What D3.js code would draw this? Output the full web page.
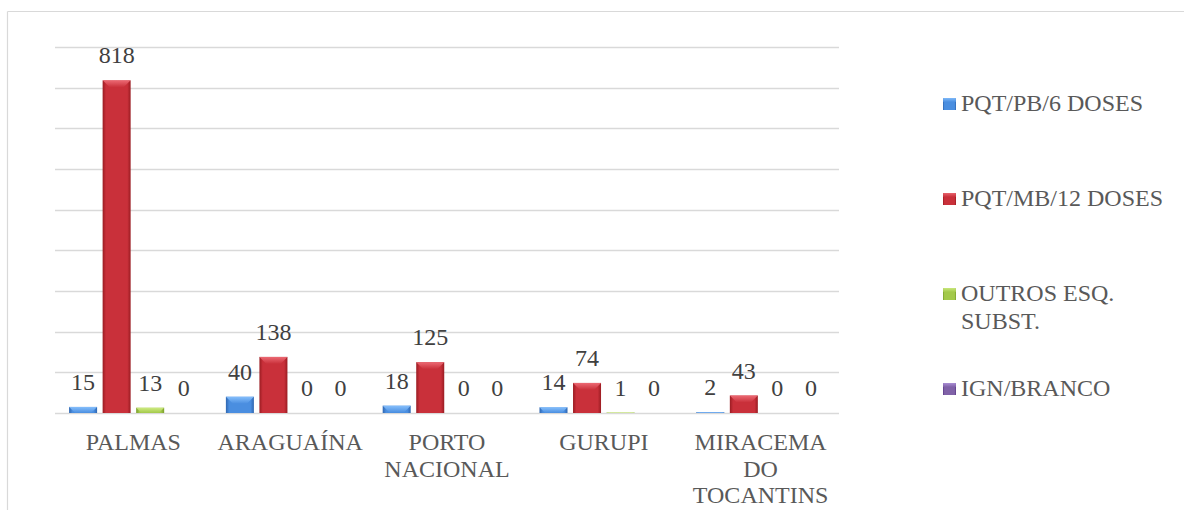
<!DOCTYPE html>
<html>
<head>
<meta charset="utf-8">
<script src="https://cdn.jsdelivr.net/npm/d3@7/dist/d3.min.js"></script>
<style>
  html, body { margin: 0; padding: 0; background: #fff; }
  svg { display: block; }
</style>
</head>
<body>
<svg id="chart" width="1184" height="510"></svg>
<script>
// ---- data ----
const categories = ["PALMAS", "ARAGUAÍNA", "PORTO NACIONAL", "GURUPI", "MIRACEMA DO TOCANTINS"];
const seriesNames = ["PQT/PB/6 DOSES", "PQT/MB/12 DOSES", "OUTROS ESQ. SUBST.", "IGN/BRANCO"];
const pqtPb6 = [15, 40, 18, 14, 2];
const pqtMb12 = [818, 138, 125, 74, 43];
const outros = [13, 0, 0, 1, 0];
const ignBranco = [0, 0, 0, 0, 0];
const yTicks = [0, 100, 200, 300, 400, 500, 600, 700, 800, 900];

const seriesValues = [pqtPb6, pqtMb12, outros, ignBranco];
const palette = [
  { dark: "#2f66b0", mid: "#4a8ee0", light: "#8cc4ff" },
  { dark: "#9a1c22", mid: "#c9303a", light: "#f0707a" },
  { dark: "#7a9e2c", mid: "#a3c94a", light: "#d2ee88" },
  { dark: "#5b3a86", mid: "#8062a8", light: "#b59ae0" }
];

const svg = d3.select("#chart");
const defs = svg.append("defs");

palette.forEach((p, i) => {
  const g = defs.append("linearGradient").attr("id", "body" + i)
    .attr("x1", "0").attr("x2", "1").attr("y1", "0").attr("y2", "0");
  g.append("stop").attr("offset", "0").attr("stop-color", p.dark);
  g.append("stop").attr("offset", "0.12").attr("stop-color", p.mid);
  g.append("stop").attr("offset", "0.88").attr("stop-color", p.mid);
  g.append("stop").attr("offset", "1").attr("stop-color", p.dark);
  const t = defs.append("linearGradient").attr("id", "top" + i)
    .attr("x1", "0").attr("x2", "0").attr("y1", "0").attr("y2", "1");
  t.append("stop").attr("offset", "0").attr("stop-color", p.light);
  t.append("stop").attr("offset", "1").attr("stop-color", p.mid);
});

// frame
svg.append("line").attr("x1", 7.5).attr("x2", 1184).attr("y1", 11.5).attr("y2", 11.5)
  .attr("stroke", "#d9d9d9").attr("stroke-width", 1.2);
svg.append("line").attr("x1", 7.5).attr("x2", 7.5).attr("y1", 11.5).attr("y2", 510)
  .attr("stroke", "#d9d9d9").attr("stroke-width", 1.2);

// scales
const x0 = d3.scaleBand().domain(categories).range([55, 839]).paddingInner(0).paddingOuter(0);
const x1 = d3.scaleBand().domain(seriesNames).range([0, x0.bandwidth()])
  .paddingInner(0.165).paddingOuter(0.42);
const y = d3.scaleLinear().domain([0, 900]).range([413, 47]);

// gridlines
svg.append("g").selectAll("line").data(yTicks).join("line")
  .attr("x1", 55).attr("x2", 839)
  .attr("y1", d => Math.round(y(d)) + 0.5).attr("y2", d => Math.round(y(d)) + 0.5)
  .attr("stroke", "#d9d9d9").attr("stroke-width", 1.4);

function txt(sel, color) {
  return sel.style("font-family", "Liberation Serif").style("fill", color || "#595959");
}

// bars
const groups = svg.append("g").selectAll("g").data(categories).join("g")
  .attr("transform", d => `translate(${x0(d)},0)`);

groups.each(function(cat, ci) {
  const g = d3.select(this);
  seriesNames.forEach((s, si) => {
    const v = seriesValues[si][ci];
    const bx = x1(s), bw = x1.bandwidth();
    const top = y(v), h = y(0) - top;
    if (h > 0) {
      g.append("rect").attr("x", bx).attr("y", top).attr("width", bw).attr("height", h)
        .attr("fill", `url(#body${si})`);
      const b = Math.min(7, h);
      g.append("path")
        .attr("d", `M${bx},${top} L${bx + bw},${top} L${bx + bw - b},${top + b} L${bx + b},${top + b} Z`)
        .attr("fill", `url(#top${si})`).attr("opacity", 0.9);
    }
    txt(g.append("text"), "#404040")
      .attr("x", bx + bw / 2).attr("y", top - 17)
      .attr("text-anchor", "middle").attr("font-size", 24)
      .text(v);
  });
});

// wrapping helper
function wrapLines(text, width, size) {
  const words = text.split(" ");
  const lines = [];
  let cur = "";
  const tmp = txt(svg.append("text")).attr("font-size", size);
  words.forEach(w => {
    const test = cur ? cur + " " + w : w;
    tmp.text(test);
    if (tmp.node().getComputedTextLength() > width && cur) {
      lines.push(cur);
      cur = w;
    } else cur = test;
  });
  lines.push(cur);
  tmp.remove();
  return lines;
}

categories.forEach(cat => {
  const lines = wrapLines(cat, x0.bandwidth() - 4, 24);
  const cx = x0(cat) + x0.bandwidth() / 2;
  const t = txt(svg.append("text")).attr("text-anchor", "middle").attr("font-size", 24)
    .attr("x", cx).attr("y", 450);
  lines.forEach((l, i) => {
    t.append("tspan").attr("x", cx).attr("dy", i === 0 ? 0 : 26.5).text(l);
  });
});

// legend
const legendY = d3.scalePoint().domain(seriesNames).range([111, 396]);
seriesNames.forEach((s, i) => {
  const by = legendY(s);
  svg.append("rect").attr("x", 943).attr("y", by - 13).attr("width", 13).attr("height", 12)
    .attr("fill", `url(#body${i})`);
  svg.append("rect").attr("x", 943).attr("y", by - 13).attr("width", 13).attr("height", 4)
    .attr("fill", `url(#top${i})`).attr("opacity", 0.8);
  const lines = wrapLines(s, 215, 24);
  const t = txt(svg.append("text")).attr("font-size", 24).attr("x", 961).attr("y", by);
  lines.forEach((l, k) => {
    t.append("tspan").attr("x", 961).attr("dy", k === 0 ? 0 : 28).text(l);
  });
});
</script>
</body>
</html>
